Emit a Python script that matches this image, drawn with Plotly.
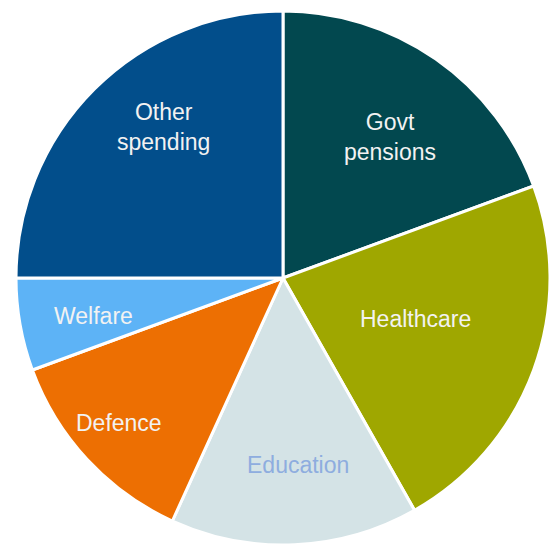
import plotly.graph_objects as go

categories = ["Govt pensions", "Healthcare", "Education", "Defence", "Welfare", "Other spending"]
display_labels = ["Govt<br>pensions", "Healthcare", "Education", "Defence", "Welfare", "Other<br>spending"]
shares = [19.4, 22.4, 15.0, 12.6, 5.6, 25.0]

slice_colors = ["#02484F", "#9FA700", "#D4E3E6", "#ED6F02", "#5DB3F6", "#024E8B"]
text_colors = ["#F2F2F2", "#F2F2F2", "#8EADDF", "#F2F2F2", "#F2F2F2", "#F2F2F2"]
# label centres in pixels (x, y from top)
label_px = [(390, 137), (415, 319), (298, 465), (119, 423), (93, 316), (163, 127)]

W, H = 552, 545

fig = go.Figure(go.Pie(
    labels=categories,
    values=shares,
    sort=False,
    direction="clockwise",
    rotation=0,
    marker=dict(colors=slice_colors, line=dict(color="white", width=3)),
    textinfo="none",
    hoverinfo="label+percent",
    showlegend=False,
    domain=dict(x=[14 / W, 1], y=[0, 1 - 11 / H]),
))

for lab, col, (px, py) in zip(display_labels, text_colors, label_px):
    fig.add_annotation(
        x=px / W, y=1 - py / H, xref="paper", yref="paper",
        text=lab, showarrow=False,
        font=dict(family="Liberation Sans, Arial, sans-serif", size=23, color=col),
        xanchor="center", yanchor="middle",
    )

fig.update_layout(
    width=W, height=H,
    margin=dict(l=0, r=0, t=0, b=0),
    paper_bgcolor="white",
    plot_bgcolor="white",
)

fig.write_html("out.html")
